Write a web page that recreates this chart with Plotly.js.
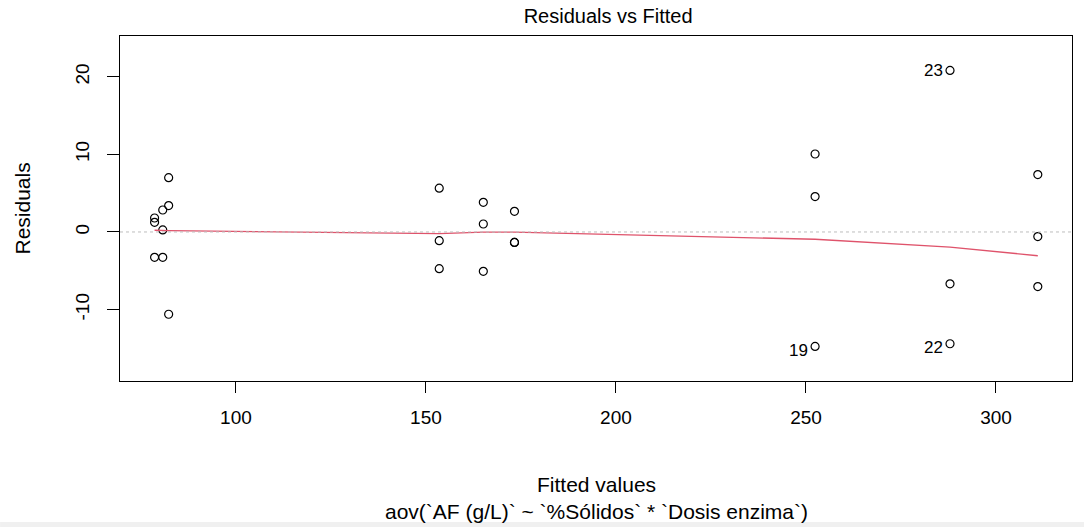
<!DOCTYPE html>
<html>
<head>
<meta charset="utf-8">
<script src="https://cdn.plot.ly/plotly-3.0.1.min.js"></script>
<style>
  html, body { margin: 0; padding: 0; background: #ffffff; }
  #chart { width: 1084px; height: 527px; }
</style>
</head>
<body>
<div id="chart"></div>
<script>
// Observation order 1..27 (fitted value, residual)
const fittedValues = [
  78.6, 78.6, 78.6,
  80.75, 80.75, 80.75,
  82.3, 82.3, 82.3,
  153.5, 153.5, 153.5,
  165.1, 165.1, 165.1,
  173.3, 173.3, 173.3,
  252.4, 252.4, 252.4,
  287.9, 287.9, 287.9,
  311.0, 311.0, 311.0
];
const residuals = [
  1.80, 1.25, -3.26,
  2.83, 0.26, -3.26,
  7.00, 3.40, -10.60,
  5.65, -1.12, -4.73,
  3.82, 1.03, -5.07,
  2.66, -1.34, -1.34,
  -14.75, 10.05, 4.56,
  -14.40, 20.81, -6.68,
  7.39, -0.59, -7.03
];
const labelledObs = [19, 22, 23];

// lowess smooth
const smoothX = [78.6, 80.75, 82.3, 153.5, 165.1, 173.3, 252.4, 287.9, 311.0];
const smoothY = [0.22, 0.20, 0.18, -0.22, -0.02, -0.03, -0.94, -1.94, -3.06];

const xTicks = [100, 150, 200, 250, 300];
const yTicks = [-10, 0, 10, 20];

const titleText = "Residuals vs Fitted";
const xTitle = "Fitted values";
const subTitle = "aov(`AF (g/L)` ~ `%Sólidos` * `Dosis enzima`)";
const yTitle = "Residuals";

const FONT = "Liberation Sans, Arial, sans-serif";
const FS = 19;
const FT = 21;

const traces = [
  {
    type: "scatter", mode: "markers",
    x: fittedValues, y: residuals,
    marker: { symbol: "circle-open", size: 8, color: "#000000", line: { width: 1.2, color: "#000000" } },
    hoverinfo: "x+y", showlegend: false
  },
  {
    type: "scatter", mode: "lines",
    x: smoothX, y: smoothY,
    line: { color: "#DF536B", width: 1.3 },
    hoverinfo: "skip", showlegend: false
  }
];

const annotations = labelledObs.map(function (id) {
  const i = id - 1;
  return {
    x: fittedValues[i], y: residuals[i], xref: "x", yref: "y",
    text: String(id), showarrow: false,
    xanchor: "right", yanchor: "middle", xshift: -5,
    yshift: residuals[i] < 0 ? -4 : 0,
    font: { family: FONT, size: 17, color: "#000000" }
  };
});
annotations.push(
  { x: 0.5, y: 0, xref: "paper", yref: "paper", text: xTitle, showarrow: false,
    xanchor: "center", yanchor: "middle", yshift: -103, font: { family: FONT, size: FT, color: "#000" } },
  { x: 0.5, y: 0, xref: "paper", yref: "paper", text: subTitle, showarrow: false,
    xanchor: "center", yanchor: "middle", yshift: -130, font: { family: FONT, size: FT, color: "#000" } },
  { x: 0, y: 0.5, xref: "paper", yref: "paper", text: yTitle, showarrow: false, textangle: -90,
    xanchor: "center", yanchor: "middle", xshift: -98, font: { family: FONT, size: FT, color: "#000" } }
);

const layout = {
  width: 1084, height: 527,
  margin: { l: 120, r: 12, t: 36, b: 146 },
  paper_bgcolor: "#ffffff", plot_bgcolor: "#ffffff",
  font: { family: FONT, size: FS, color: "#000000" },
  title: { text: titleText, x: 0.561, xref: "container", xanchor: "center", y: 1 - 16 / 527, yref: "container", yanchor: "middle",
           font: { family: FONT, size: 20, color: "#000000" } },
  showlegend: false,
  xaxis: {
    range: [69.5, 320.0], tickvals: xTicks, ticktext: xTicks.map(String),
    showgrid: false, zeroline: false, showline: true, mirror: true,
    linecolor: "#000000", linewidth: 1,
    ticks: "outside", ticklen: 11, tickwidth: 1, tickcolor: "#000000",
    ticklabelstandoff: 8,
    tickfont: { family: FONT, size: FS, color: "#000000" }
  },
  yaxis: {
    range: [-19.2, 25.25], tickvals: yTicks, ticktext: yTicks.map(String),
    showgrid: false, zeroline: false, showline: true, mirror: true,
    linecolor: "#000000", linewidth: 1,
    ticks: "outside", ticklen: 12, tickwidth: 1, tickcolor: "#000000",
    tickangle: -90, ticklabelstandoff: 10,
    tickfont: { family: FONT, size: FS, color: "#000000" }
  },
  shapes: [
    { type: "line", xref: "paper", yref: "y", x0: 0, x1: 1, y0: 0, y1: 0,
      line: { color: "#BEBEBE", width: 1, dash: "dot" }, layer: "above" },
    { type: "rect", xref: "paper", yref: "paper",
      x0: -120 / 952.5, x1: 1 + 12 / 952.5, y0: (381 - 527) / 345, y1: (381 - 522) / 345,
      fillcolor: "#F0F0F0", line: { width: 0 }, layer: "below" }
  ],
  annotations: annotations
};

Plotly.newPlot("chart", traces, layout, { staticPlot: true, displayModeBar: false });
</script>
</body>
</html>
